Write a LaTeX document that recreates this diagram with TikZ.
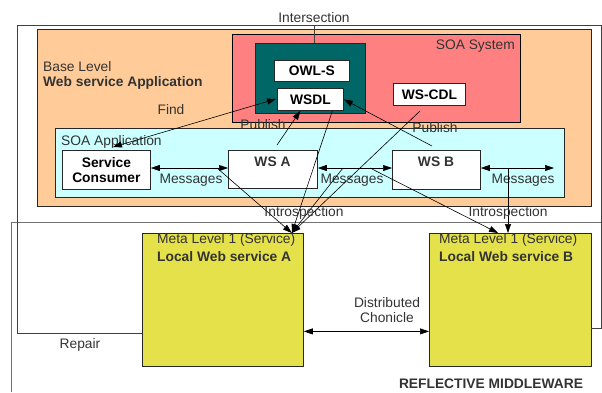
\documentclass[tikz,border=0pt]{standalone}
\usepackage{fontspec}
\setmainfont{Liberation Sans}
\usetikzlibrary{arrows.meta}
\definecolor{baseorange}{HTML}{FFCC99}
\definecolor{soared}{HTML}{FF8080}
\definecolor{darkteal}{HTML}{006666}
\definecolor{appcyan}{HTML}{CCFFFF}
\definecolor{metayellow}{HTML}{E5E14A}
\tikzset{
  box/.style={draw=black!85, line width=0.8pt, anchor=north west, inner sep=0pt},
  txt/.style={text=black!80, inner sep=0pt},
  arr/.style={-{Triangle[length=9pt,width=6pt]}, line width=0.6pt},
  dblarr/.style={{Triangle[length=9pt,width=6pt]}-{Triangle[length=9pt,width=6pt]}, line width=0.6pt},
}
\begin{document}
\fontsize{13.8}{16}\selectfont
\begin{tikzpicture}[x=1pt,y=-1pt]
\useasboundingbox (0,0) rectangle (602,392);

%reflective middleware frame
\draw [black!55, line width=0.8pt] (11,392) -- (11,222) -- (602,222) ;

%base level
\node [box, fill=baseorange, minimum width=554, minimum height=177] (base) at (37,29) {} ;
\node [txt, anchor=west] (baselbl) at (43,67) {Base Level} ;
\node [txt, anchor=west, font=\bfseries] (basename) at (43,83) {Web service Application} ;

%soa system
\node [box, draw=black, fill=soared, minimum width=288, minimum height=88] (soasys) at (232,34) {} ;
\node [txt, anchor=east] (soasyslbl) at (515,46) {SOA System} ;
\node [txt] (publish1) at (263,125) {Publish} ;
\node [box, fill=darkteal, minimum width=110, minimum height=70] (teal) at (255,43) {} ;
\node [box, fill=white, minimum width=75, minimum height=21, font=\bfseries] (owls) at (274,60) {OWL-S} ;
\node [box, fill=white, minimum width=66, minimum height=22, font=\bfseries] (wsdl) at (277,88) {WSDL} ;
\node [box, fill=white, minimum width=72, minimum height=22, font=\bfseries] (wscdl) at (393,83) {WS-CDL} ;

%soa application
\node [box, fill=appcyan, minimum width=509, minimum height=69] (soaapp) at (55,128) {} ;
\node [txt, anchor=west] (soaapplbl) at (61,142) {SOA Application} ;
\node [box, fill=white, minimum width=88, minimum height=39, font=\bfseries, align=center] (consumer) at (62,150) {Service\\[-1pt]Consumer} ;
\node [box, fill=white, minimum width=89, minimum height=38] (wsa) at (228,150) {} ;
\node [box, fill=white, minimum width=88, minimum height=39] (wsb) at (392,150) {} ;
\node [txt, font=\bfseries] (wsalbl) at (272.5,162) {WS A} ;
\node [txt, font=\bfseries] (wsblbl) at (436,162) {WS B} ;

%meta level
\node [box, fill=metayellow, minimum width=161, minimum height=133] (metaA) at (142,233) {} ;
\node [box, fill=metayellow, minimum width=162, minimum height=133] (metaB) at (429,233) {} ;
\node [txt, anchor=west] (metaAlvl) at (157,240) {Meta Level 1 (Service)} ;
\node [txt, anchor=west, font=\bfseries] (metaAname) at (157,257) {Local Web service A} ;
\node [txt, anchor=west] (metaBlvl) at (439,240) {Meta Level 1 (Service)} ;
\node [txt, anchor=west, font=\bfseries] (metaBname) at (439,257) {Local Web service B} ;

%free ends
\coordinate (repA) at (142,333) ;
\coordinate (repB) at (591,328) ;
\coordinate (msgend) at (554,168) ;
\coordinate (findA) at (113,147) ;
\coordinate (findB) at (276,99) ;
\coordinate (pubA) at (277,145) ;
\coordinate (pubB) at (432,146) ;
\coordinate (cdlout) at (420,111) ;
\coordinate (msg1) at (217,168) ;
\coordinate (msg2) at (343,168) ;
\coordinate (msg3) at (370,168) ;
\coordinate (msg4) at (508,168) ;
\coordinate (isect) at (314,25) ;
\coordinate (inA) at ([xshift=-12pt]metaA.north east) ;
\coordinate (inB1) at ([xshift=69pt]metaB.north west) ;
\coordinate (inB2) at ([xshift=79pt]metaB.north west) ;

%repair loop
\draw [black!75, line width=0.8pt] (repA) -- (17,333) -- (17,25) -- (601,25) -- (601,328) -- (repB) ;
\node [txt] (repair) at (80,345) {Repair} ;

%intersection
\node [txt] (intersect) at (314,18) {Intersection} ;
\draw [black!75, line width=0.8pt] (isect) -- (isect |- teal.north) ;

%messages
\draw [dblarr] (consumer.east |- msg1) -- (wsa.west |- msg1) ;
\draw [dblarr] (wsa.east |- msg2) -- (wsb.west |- msg2) ;
\draw [dblarr] (wsb.east |- msgend) -- (msgend) ;
\node [txt] (msglbl1) at (191,180) {Messages} ;
\node [txt] (msglbl2) at (352,180) {Messages} ;
\node [txt] (msglbl3) at (523,180) {Messages} ;

%find and publish
\draw [dblarr] (findA) -- (findB) ;
\node [txt] (find) at (171,110) {Find} ;
\draw [arr] (pubA) -- ([xshift=-10pt]wsdl.south) ;
\draw [arr] (pubB) -- (wsdl.east) ;
\node [txt] (publish2) at (435,128) {Publish} ;

%introspection
\draw [arr] ([xshift=22pt]wsdl.south) -- (inA) ;
\draw [arr] (cdlout) -- (inA) ;
\draw [arr] (msg1) -- (inA) ;
\draw [arr] (msg2) -- (inA) ;
\draw [arr] (msg3) -- (inB1) ;
\draw [arr] (msg4) -- (inB2) ;
\node [txt] (intro1) at (304,213) {Introspection} ;
\node [txt] (intro2) at (508,213) {Introspection} ;

%distributed chonicle
\draw [dblarr] ([yshift=-31.5pt]metaA.east) -- ([yshift=-31.5pt]metaB.west) ;
\node [txt, align=center] (chonicle) at (387,310) {Distributed\\[-1pt]Chonicle} ;

%reflective middleware
\node [txt, font=\bfseries] (refmid) at (491,384) {REFLECTIVE MIDDLEWARE} ;

\end{tikzpicture}
\end{document}
